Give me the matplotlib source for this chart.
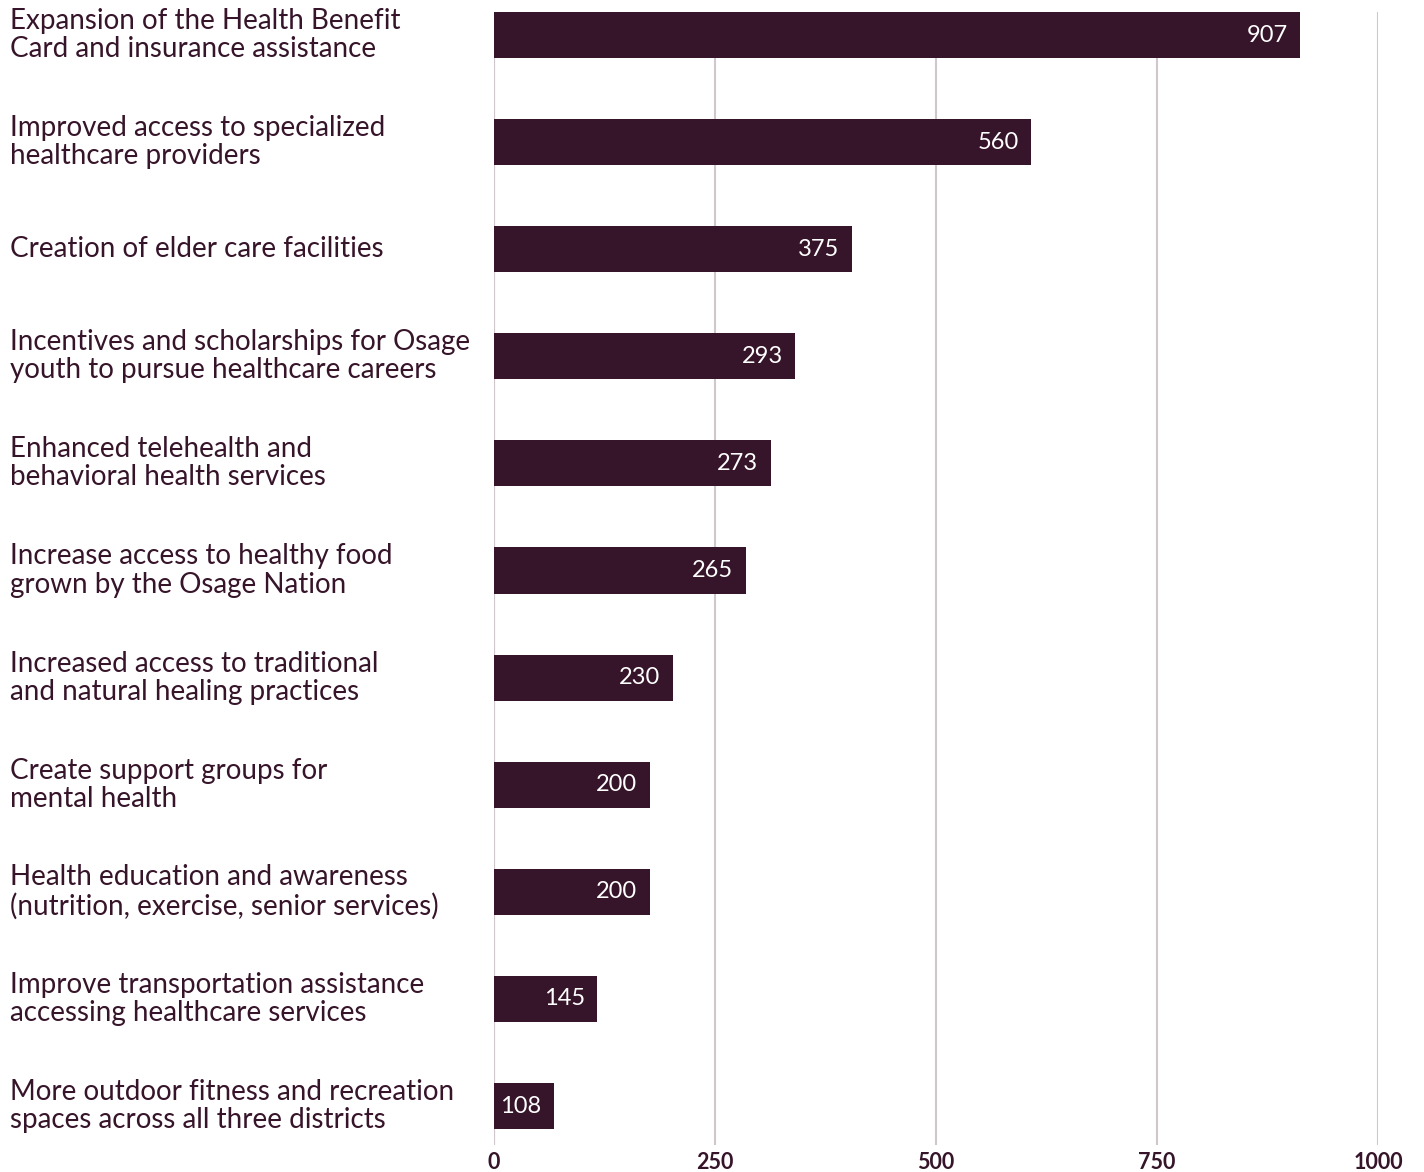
import matplotlib.pyplot as plt
import matplotlib.transforms as mtransforms

plt.rcParams['font.family'] = ['Lato', 'DejaVu Sans']

# categories, top to bottom
categories = [
    'Expansion of the Health Benefit\nCard and insurance assistance',
    'Improved access to specialized\nhealthcare providers',
    'Creation of elder care facilities',
    'Incentives and scholarships for Osage\nyouth to pursue healthcare careers',
    'Enhanced telehealth and\nbehavioral health services',
    'Increase access to healthy food\ngrown by the Osage Nation',
    'Increased access to traditional\nand natural healing practices',
    'Create support groups for\nmental health',
    'Health education and awareness\n(nutrition, exercise, senior services)',
    'Improve transportation assistance\naccessing healthcare services',
    'More outdoor fitness and recreation\nspaces across all three districts',
]
# bar lengths as drawn in the source chart
bar_lengths = [912, 608, 405, 341, 313, 285, 202, 176, 176, 117, 68]
# printed values on the bars
value_labels = [907, 560, 375, 293, 273, 265, 230, 200, 200, 145, 108]
x_ticks = [0, 250, 500, 750, 1000]

BAR = '#361429'
GRID = '#cfc7cb'

fig = plt.figure(figsize=(14.24, 11.72), dpi=100)
ax = fig.add_axes([494 / 1424, 27 / 1172, 884 / 1424, 1133 / 1172])

n = len(categories)
ypos = list(range(n))
ax.barh(ypos, bar_lengths, height=0.43, color=BAR, zorder=3)

for y, length, val in zip(ypos, bar_lengths, value_labels):
    ax.annotate(str(val), xy=(length, y), xytext=(-9, 0), textcoords='offset points',
                ha='right', va='center', color='white', fontsize=17, zorder=4)

trans = mtransforms.blended_transform_factory(fig.transFigure, ax.transData)
for y, cat in zip(ypos, categories):
    ax.text(10 / 1424, y, cat, transform=trans, ha='left', va='center',
            fontsize=20, color=BAR, linespacing=1.1)

ax.set_xlim(0, 1000)
ax.set_ylim(n - 1 + 0.364, -0.215)
ax.set_xticks(x_ticks)
ax.set_xticklabels([str(t) for t in x_ticks], fontweight='bold', fontsize=15.5, color=BAR)
ax.set_yticks([])
ax.tick_params(axis='x', length=0, pad=5)
ax.xaxis.grid(True, color=GRID, linewidth=1.5, zorder=0)
for s in ax.spines.values():
    s.set_visible(False)
ax.axvline(0, color=GRID, linewidth=1.5, zorder=1)

fig.savefig('out.png', dpi=100)
